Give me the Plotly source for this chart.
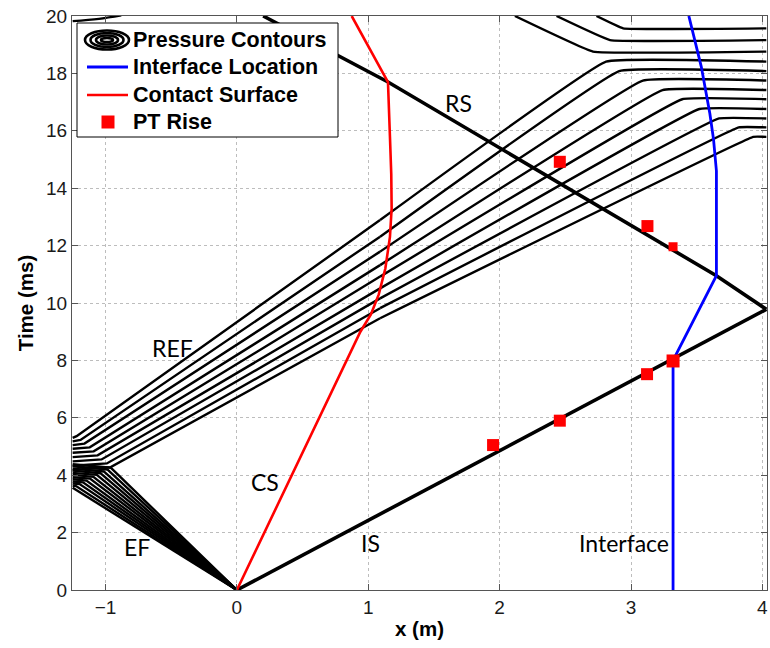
import plotly.graph_objects as go

# ---- wave paths (x in m, time in ms) ----
is_x = [0.0, 4.03]
is_y = [0.0, 9.78]
rs_x = [4.03, 3.65, 1.15, 0.20]
rs_y = [9.78, 10.95, 17.7, 20.0]

cs_x = [0.0, 0.47, 0.94, 1.02, 1.08, 1.13, 1.165, 1.178, 1.175, 1.165, 1.15, 0.874]
cs_y = [0.0, 4.5, 9.0, 9.6, 10.3, 11.2, 12.3, 13.3, 14.5, 15.8, 17.7, 20.0]

if_x = [3.32, 3.32, 3.65, 3.65, 3.628, 3.60, 3.535, 3.44]
if_y = [0.0, 8.0, 10.95, 14.6, 15.7, 16.6, 18.23, 20.0]

# ---- pressure transducer rise times ----
pt_x = [1.95, 2.458, 3.122, 3.32, 3.32, 3.125, 2.458]
pt_y = [5.05, 5.90, 7.52, 7.98, 11.96, 12.68, 14.92]
pt_size = [12, 12, 12, 13, 9, 12, 12]

# ---- pressure contours ----
# incident expansion fan: from the diaphragm to the end wall
ef_entry_x = [-1.25, -1.224, -1.197, -1.171, -1.145, -1.118,
              -1.092, -1.066, -1.039, -1.013, -0.986, -0.96]
ef_entry_y = [3.56, 3.62, 3.69, 3.75, 3.81, 3.88, 3.94, 4.01, 4.07, 4.13, 4.20, 4.26]
ef_wall_y = [3.56, 3.63, 3.71, 3.78, 3.86, 3.93, 4.01, 4.08, 4.16, 4.23, 4.31, 4.38]
WALL_X = -1.25

# reflected fan: from the end wall through the contact surface to the plateau
ref_wall_y = [5.30, 5.18, 5.05, 4.92, 4.78, 4.63, 4.48, 4.33, 4.18]
ref_start_x = [-1.22, -1.19, -1.16, -1.12, -1.09, -1.06, -1.03, -0.99, -0.96]
ref_start_y = [5.36, 5.23, 5.10, 4.97, 4.83, 4.69, 4.55, 4.41, 4.28]
ref_mid_x = 1.09
ref_mid_y = [12.89, 12.31, 11.79, 11.32, 10.92, 10.51, 10.16, 9.82, 9.47]
ref_turn_x = [2.81, 2.91, 3.09, 3.24, 3.39, 3.52, 3.67, 3.82, 3.93]
ref_level_y = [18.41, 18.08, 17.75, 17.42, 17.10, 16.76, 16.43, 16.12, 15.79]

# contours entering from above
desc_x = [[2.116, 2.71, 4.03], [2.433, 2.84, 4.03], [2.737, 2.94, 4.03]]
desc_y = [[20.0, 18.76, 18.76], [20.0, 19.16, 19.16], [20.0, 19.57, 19.57]]
top_left_x = [-1.25, -1.05, -0.88]
top_left_y = [19.82, 19.90, 20.02]

X_RIGHT = 4.03

fig = go.Figure()

contour_line = dict(color="black", width=2.4)
rounded_line = dict(color="black", width=2.4, shape="spline", smoothing=0.22)


def add_contour(xs, ys, line=contour_line):
    fig.add_trace(go.Scatter(x=xs, y=ys, mode="lines", line=line,
                             hoverinfo="skip", showlegend=False))


for k in range(len(ef_entry_x)):
    add_contour([0.0, ef_entry_x[k], WALL_X], [0.0, ef_entry_y[k], ef_wall_y[k]])

for m in range(len(ref_start_x)):
    # straight run across the driver section
    add_contour([WALL_X, ref_start_x[m], ref_mid_x],
                [ref_wall_y[m], ref_start_y[m], ref_mid_y[m]])
    # rounded bend into the plateau
    add_contour([ref_mid_x, ref_turn_x[m], X_RIGHT],
                [ref_mid_y[m], ref_level_y[m], ref_level_y[m]], rounded_line)

for xs, ys in zip(desc_x, desc_y):
    add_contour(xs, ys, rounded_line)
add_contour(top_left_x, top_left_y, dict(color="black", width=2.4, shape="spline"))

# shocks
for xs, ys in ((is_x, is_y), (rs_x, rs_y)):
    add_contour(xs, ys, dict(color="black", width=3.6))

fig.add_trace(go.Scatter(x=cs_x, y=cs_y, mode="lines", name="Contact Surface",
                         line=dict(color="#ff0000", width=2.6), showlegend=False))
fig.add_trace(go.Scatter(x=if_x, y=if_y, mode="lines", name="Interface Location",
                         line=dict(color="#0000ff", width=2.8), showlegend=False))
fig.add_trace(go.Scatter(x=pt_x, y=pt_y, mode="markers", name="PT Rise",
                         marker=dict(symbol="square", color="#ff0000", size=pt_size,
                                     opacity=1, line=dict(width=0)),
                         showlegend=False))

# in-plot labels
label_font = dict(family="Lato, Open Sans, sans-serif", size=23, color="black")
labels = [("RS", 1.69, 16.96), ("REF", -0.49, 8.42), ("CS", 0.214, 3.77),
          ("EF", -0.761, 1.49), ("IS", 1.02, 1.64), ("Interface", 2.944, 1.64)]
for txt, lx, ly in labels:
    fig.add_annotation(x=lx, y=ly, text=txt, showarrow=False, font=label_font,
                       xanchor="center", yanchor="middle")

# ---- hand-built legend box ----
L, R, T, B = 72, 767, 16, 590


def px(xp):
    return (xp - L) / (R - L)


def py(yp):
    return (B - yp) / (B - T)


fig.add_shape(type="rect", xref="paper", yref="paper",
              x0=px(77), x1=px(338), y0=py(137), y1=py(23),
              line=dict(color="black", width=1), fillcolor="white", layer="above")

# concentric-ring icon for the contour entry
for w, h in ((44, 19), (33, 14), (22, 9), (12, 4)):
    fig.add_shape(type="circle", xref="paper", yref="paper",
                  xsizemode="pixel", ysizemode="pixel",
                  xanchor=px(107), yanchor=py(40),
                  x0=-w / 2, x1=w / 2, y0=-h / 2, y1=h / 2,
                  line=dict(color="black", width=2.6), layer="above")

fig.add_shape(type="line", xref="paper", yref="paper", x0=px(87), x1=px(128),
              y0=py(67), y1=py(67), line=dict(color="#0000ff", width=2.8), layer="above")
fig.add_shape(type="line", xref="paper", yref="paper", x0=px(87), x1=px(128),
              y0=py(95), y1=py(95), line=dict(color="#ff0000", width=2.6), layer="above")
fig.add_shape(type="rect", xref="paper", yref="paper",
              xsizemode="pixel", ysizemode="pixel", xanchor=px(108), yanchor=py(122),
              x0=-6.5, x1=6.5, y0=-6.5, y1=6.5,
              line=dict(width=0), fillcolor="#ff0000", layer="above")

legend_font = dict(family="Liberation Sans, Arial, sans-serif", size=21.5, color="black")
for txt, yy in (("Pressure Contours", 40), ("Interface Location", 67),
                ("Contact Surface", 95), ("PT Rise", 122)):
    fig.add_annotation(xref="paper", yref="paper", x=px(131), y=py(yy), text=f"<b>{txt}</b>",
                       showarrow=False, xanchor="left", yanchor="middle", font=legend_font)

axis_common = dict(
    showline=True, linecolor="#555555", linewidth=1, mirror="ticks",
    ticks="inside", ticklen=6, tickcolor="#555555",
    showgrid=True, gridcolor="#bdbdbd", griddash="dot", gridwidth=1,
    zeroline=False,
    tickfont=dict(family="Liberation Sans, Arial, sans-serif", size=19, color="#1a1a1a"),
)
title_font = dict(family="Liberation Sans, Arial, sans-serif", size=20.5, color="black")

fig.update_xaxes(range=[-1.255, 4.035], tickvals=[-1, 0, 1, 2, 3, 4],
                 ticktext=["\u22121", "0", "1", "2", "3", "4"],
                 title=dict(text="<b>x (m)</b>", standoff=4, font=title_font),
                 **axis_common)
fig.update_yaxes(range=[0, 20], tickvals=list(range(0, 21, 2)),
                 title=dict(text="<b>Time (ms)</b>", standoff=6, font=title_font),
                 **axis_common)

fig.update_layout(width=770, height=648, margin=dict(l=72, r=3, t=16, b=58),
                  plot_bgcolor="white", paper_bgcolor="white", showlegend=False)

fig.write_html("out.html")
